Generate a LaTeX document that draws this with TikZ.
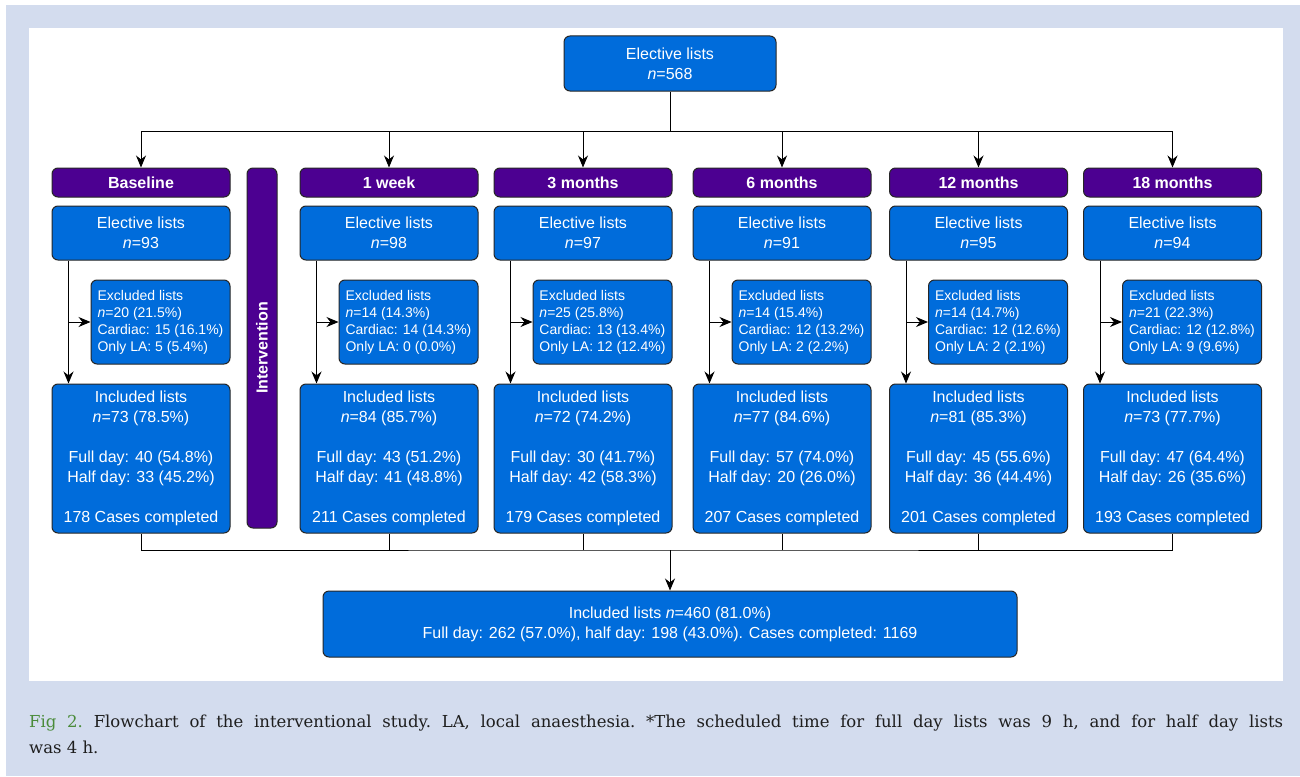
\documentclass[tikz,border=0pt]{standalone}
\usepackage{fontspec}
\setmainfont{Liberation Sans}
\newfontfamily\capfont{DejaVu Serif}
\usepackage{tikz}
\usetikzlibrary{arrows.meta, positioning}
\definecolor{pagegray}{RGB}{211,220,238}
\definecolor{listblue}{RGB}{0,108,219}
\definecolor{phasepurple}{RGB}{76,0,145}
\definecolor{figgreen}{RGB}{74,139,58}
\definecolor{captext}{RGB}{30,30,30}
\tikzstyle{arrow} = [line width=1pt,-{Stealth[length=12pt,width=10pt]}]
\tikzstyle{line}  = [line width=1pt]

\begin{document}
\begin{tikzpicture}[
        x=1pt, y=1pt,
        base/.style    ={rounded corners=6pt, draw=black!85, line width=1pt, text=white,
                         align=center, inner sep=0pt, font=\fontsize{16}{20}\selectfont},
        toplist/.style ={base, fill=listblue, minimum width=212pt, minimum height=55pt},
        phase/.style   ={base, fill=phasepurple, font=\fontsize{16}{20}\selectfont\bfseries,
                         minimum width=178pt, minimum height=29pt},
        elective/.style={base, fill=listblue, minimum width=178pt, minimum height=54pt},
        excluded/.style={base, fill=listblue, align=left, font=\fontsize{14}{17}\selectfont,
                         minimum width=139pt, minimum height=84pt},
        included/.style={base, fill=listblue, minimum width=178pt, minimum height=149pt},
        total/.style   ={base, fill=listblue, minimum width=694pt, minimum height=66pt},
        interv/.style  ={base, fill=phasepurple, font=\fontsize{16}{20}\selectfont\bfseries,
                         rotate=90, minimum width=360pt, minimum height=30pt}
    ]

    % --- background ---
    \useasboundingbox (0,0) rectangle (1300,-776);
    \fill[pagegray] (6,-5) rectangle (1300,-776);
    \fill[white] (29,-28) rectangle (1283,-681);

    % --- top ---
    \node[toplist] (top) at (670,-63.5) {Elective lists\\\textit{n}=568};

    % --- phases ---
    \node[phase] (p0) at (141,-182.5)   {Baseline};
    \node[phase] (p1) at (389,-182.5)   {1 week};
    \node[phase] (p2) at (583,-182.5)   {3 months};
    \node[phase] (p3) at (782,-182.5)   {6 months};
    \node[phase] (p4) at (978.5,-182.5) {12 months};
    \node[phase] (p5) at (1172.5,-182.5) {18 months};

    \node[interv] (iv) at (262,-348) {Intervention};

    % --- elective lists ---
    \node[elective, below=8pt of p0] (e0) {Elective lists\\\textit{n}=93};
    \node[elective, below=8pt of p1] (e1) {Elective lists\\\textit{n}=98};
    \node[elective, below=8pt of p2] (e2) {Elective lists\\\textit{n}=97};
    \node[elective, below=8pt of p3] (e3) {Elective lists\\\textit{n}=91};
    \node[elective, below=8pt of p4] (e4) {Elective lists\\\textit{n}=95};
    \node[elective, below=8pt of p5] (e5) {Elective lists\\\textit{n}=94};

    % --- excluded lists ---
    \node[excluded, below=19pt of e0.south east, anchor=north east] (x0)
        {Excluded lists\\\textit{n}=20 (21.5\%)\\Cardiac: 15 (16.1\%)\\Only LA: 5 (5.4\%)};
    \node[excluded, below=19pt of e1.south east, anchor=north east] (x1)
        {Excluded lists\\\textit{n}=14 (14.3\%)\\Cardiac: 14 (14.3\%)\\Only LA: 0 (0.0\%)};
    \node[excluded, below=19pt of e2.south east, anchor=north east] (x2)
        {Excluded lists\\\textit{n}=25 (25.8\%)\\Cardiac: 13 (13.4\%)\\Only LA: 12 (12.4\%)};
    \node[excluded, below=19pt of e3.south east, anchor=north east] (x3)
        {Excluded lists\\\textit{n}=14 (15.4\%)\\Cardiac: 12 (13.2\%)\\Only LA: 2 (2.2\%)};
    \node[excluded, below=19pt of e4.south east, anchor=north east] (x4)
        {Excluded lists\\\textit{n}=14 (14.7\%)\\Cardiac: 12 (12.6\%)\\Only LA: 2 (2.1\%)};
    \node[excluded, below=19pt of e5.south east, anchor=north east] (x5)
        {Excluded lists\\\textit{n}=21 (22.3\%)\\Cardiac: 12 (12.8\%)\\Only LA: 9 (9.6\%)};

    % --- included lists ---
    \node[included, below=19pt of x0.south east, anchor=north east] (i0)
        {Included lists\\\textit{n}=73 (78.5\%)\\[20pt]Full day: 40 (54.8\%)\\Half day: 33 (45.2\%)\\[20pt]178 Cases completed};
    \node[included, below=19pt of x1.south east, anchor=north east] (i1)
        {Included lists\\\textit{n}=84 (85.7\%)\\[20pt]Full day: 43 (51.2\%)\\Half day: 41 (48.8\%)\\[20pt]211 Cases completed};
    \node[included, below=19pt of x2.south east, anchor=north east] (i2)
        {Included lists\\\textit{n}=72 (74.2\%)\\[20pt]Full day: 30 (41.7\%)\\Half day: 42 (58.3\%)\\[20pt]179 Cases completed};
    \node[included, below=19pt of x3.south east, anchor=north east] (i3)
        {Included lists\\\textit{n}=77 (84.6\%)\\[20pt]Full day: 57 (74.0\%)\\Half day: 20 (26.0\%)\\[20pt]207 Cases completed};
    \node[included, below=19pt of x4.south east, anchor=north east] (i4)
        {Included lists\\\textit{n}=81 (85.3\%)\\[20pt]Full day: 45 (55.6\%)\\Half day: 36 (44.4\%)\\[20pt]201 Cases completed};
    \node[included, below=19pt of x5.south east, anchor=north east] (i5)
        {Included lists\\\textit{n}=73 (77.7\%)\\[20pt]Full day: 47 (64.4\%)\\Half day: 26 (35.6\%)\\[20pt]193 Cases completed};

    % --- total ---
    \node[total] (all) at (670,-624)
        {Included lists \textit{n}=460 (81.0\%)\\Full day: 262 (57.0\%), half day: 198 (43.0\%). Cases completed: 1169};

    % --- arrows ---
    \coordinate (split) at (670,-131);
    \coordinate (merge) at (670,-550);
    \draw[line] (top.south) -- (split);
    \draw[line] (p0.north |- split) -- (p5.north |- split);
    \draw[arrow] (p0.north |- split) -- (p0.north);
    \draw[arrow] (p1.north |- split) -- (p1.north);
    \draw[arrow] (p2.north |- split) -- (p2.north);
    \draw[arrow] (p3.north |- split) -- (p3.north);
    \draw[arrow] (p4.north |- split) -- (p4.north);
    \draw[arrow] (p5.north |- split) -- (p5.north);

    \draw[arrow] ([xshift=17pt]e0.south west) -- ([xshift=17pt]i0.north west);
    \draw[arrow] ([xshift=17pt]e1.south west) -- ([xshift=17pt]i1.north west);
    \draw[arrow] ([xshift=17pt]e2.south west) -- ([xshift=17pt]i2.north west);
    \draw[arrow] ([xshift=17pt]e3.south west) -- ([xshift=17pt]i3.north west);
    \draw[arrow] ([xshift=17pt]e4.south west) -- ([xshift=17pt]i4.north west);
    \draw[arrow] ([xshift=17pt]e5.south west) -- ([xshift=17pt]i5.north west);
    \draw[arrow] ([xshift=-22pt]x0.west) -- (x0.west);
    \draw[arrow] ([xshift=-22pt]x1.west) -- (x1.west);
    \draw[arrow] ([xshift=-22pt]x2.west) -- (x2.west);
    \draw[arrow] ([xshift=-22pt]x3.west) -- (x3.west);
    \draw[arrow] ([xshift=-22pt]x4.west) -- (x4.west);
    \draw[arrow] ([xshift=-22pt]x5.west) -- (x5.west);

    \draw[line] (i0.south) |- (merge) -| (i5.south);
    \draw[line] (i1.south) -- (i1.south |- merge);
    \draw[line] (i2.south) -- (i2.south |- merge);
    \draw[line] (i3.south) -- (i3.south |- merge);
    \draw[line] (i4.south) -- (i4.south |- merge);
    \draw[arrow] (merge) -- (all.north);

    % --- caption ---
    \node[anchor=north west, text width=1254pt, align=justify, inner sep=0pt, text=captext,
          font=\capfont\fontsize{16.5}{26}\selectfont\frenchspacing] (cap) at (29,-715)
        {\textcolor{figgreen}{Fig 2.} Flowchart of the interventional study. LA, local anaesthesia. *The scheduled time for full day lists was 9 h, and for half day lists\linebreak was 4 h.};

\end{tikzpicture}
\end{document}
